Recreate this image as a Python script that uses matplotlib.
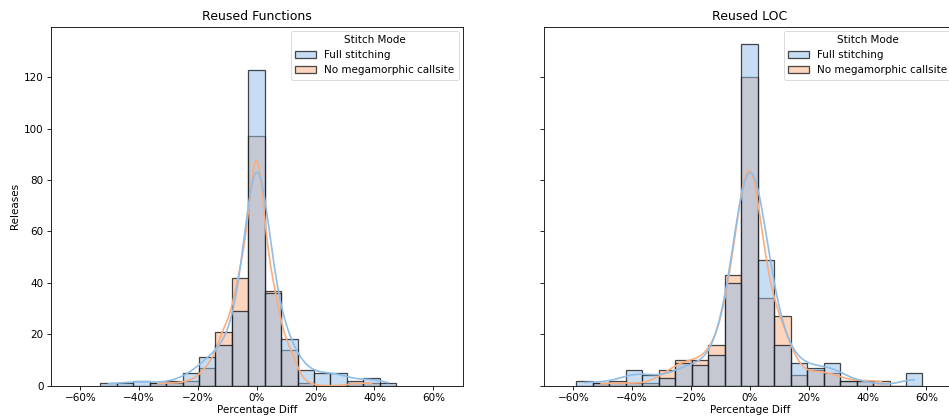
import numpy as np
import matplotlib
matplotlib.use("Agg")
import matplotlib.pyplot as plt
from matplotlib.ticker import PercentFormatter
from matplotlib.patches import Patch

# ---------------- data ----------------
hue_labels = ["Full stitching", "No megamorphic callsite"]
panel_titles = ["Reused Functions", "Reused LOC"]

# bin range (fraction) and counts per bin
funcs_range = (-0.532, 0.474)
funcs_full = [1, 1, 2, 1, 2, 5, 11, 16, 29, 123, 36, 18, 6, 5, 5, 2, 3, 1]
funcs_nomega = [0, 0, 0, 1, 1, 2, 7, 21, 42, 97, 37, 14, 1, 0, 0, 1, 1, 0]

loc_range = (-0.5896, 0.5870)
loc_full = [2, 1, 2, 6, 4, 3, 9, 8, 12, 40, 133, 49, 16, 9, 7, 9, 2, 2, 0, 0, 5]
loc_nomega = [0, 1, 1, 1, 1, 6, 10, 10, 16, 43, 120, 34, 27, 4, 6, 5, 2, 2, 2, 0, 0]

xticks = [-0.6, -0.4, -0.2, 0.0, 0.2, 0.4, 0.6]
yticks = [0, 20, 40, 60, 80, 100, 120]

# ---------------- style ----------------
colors = ["#8fbde8", "#fbad7e"]
FS = 7.5
W, H = 949, 419
fig = plt.figure(figsize=(W / 100, H / 100), dpi=100)

def px_axes(x0, x1, ytop, ybot):
    return fig.add_axes([x0 / W, (H - ybot) / H, (x1 - x0) / W, (ybot - ytop) / H])

ax1 = px_axes(51, 462.7, 26.7, 385.7)
ax2 = px_axes(544, 955.7, 26.7, 385.7)


def kde_curve(centers, counts, binw):
    counts = np.asarray(counts, float)
    n = counts.sum()
    mean = np.sum(counts * centers) / n
    std = np.sqrt(np.sum(counts * (centers - mean) ** 2) / (n - 1))
    bw = std * n ** (-1 / 5)
    nz = np.nonzero(counts)[0]
    grid = np.linspace(centers[nz[0]], centers[nz[-1]], 200)
    dens = np.zeros_like(grid)
    for c, k in zip(centers, counts):
        if k:
            dens += k * np.exp(-0.5 * ((grid - c) / bw) ** 2)
    dens /= (n * bw * np.sqrt(2 * np.pi))
    return grid, dens * n * binw


def panel(ax, rng, series, title, show_ylabel):
    nb = len(series[0])
    edges = np.linspace(rng[0], rng[1], nb + 1)
    centers = 0.5 * (edges[:-1] + edges[1:])
    binw = edges[1] - edges[0]
    # draw later hue first so first hue sits on top
    for i in reversed(range(len(series))):
        ax.hist(centers, bins=edges, weights=series[i],
                facecolor=matplotlib.colors.to_rgba(colors[i], 0.5),
                edgecolor=(0.1, 0.1, 0.1, 0.8), linewidth=0.9, zorder=2)
    for i in reversed(range(len(series))):
        gx, gy = kde_curve(centers, series[i], binw)
        ax.plot(gx, gy, color=colors[i], lw=1.2, zorder=3)
    ax.set_xlim(-0.7, 0.7)
    ax.set_ylim(0, 139.65)
    ax.set_xticks(xticks)
    ax.xaxis.set_major_formatter(PercentFormatter(1.0, decimals=0))
    ax.set_yticks(yticks)
    ax.tick_params(labelsize=FS, length=2.6, width=0.6, pad=2.6)
    for s in ax.spines.values():
        s.set_linewidth(0.6)
    ax.set_title(title, fontsize=9, pad=4.5)
    ax.set_xlabel("Percentage Diff", fontsize=FS, labelpad=1.5)
    if show_ylabel:
        ax.set_ylabel("Releases", fontsize=FS, labelpad=3)
    else:
        ax.set_yticklabels([])
    handles = [Patch(facecolor=matplotlib.colors.to_rgba(colors[i], 0.5),
                     edgecolor=(0.1, 0.1, 0.1, 0.8), linewidth=0.9)
               for i in range(len(series))]
    leg = ax.legend(handles, hue_labels, title="Stitch Mode", loc="upper right",
                    fontsize=FS, title_fontsize=FS, borderaxespad=0.4)
    leg.get_frame().set_linewidth(0.6)


panel(ax1, funcs_range, [funcs_full, funcs_nomega], panel_titles[0], True)
panel(ax2, loc_range, [loc_full, loc_nomega], panel_titles[1], False)

fig.savefig("out.png", dpi=100)
